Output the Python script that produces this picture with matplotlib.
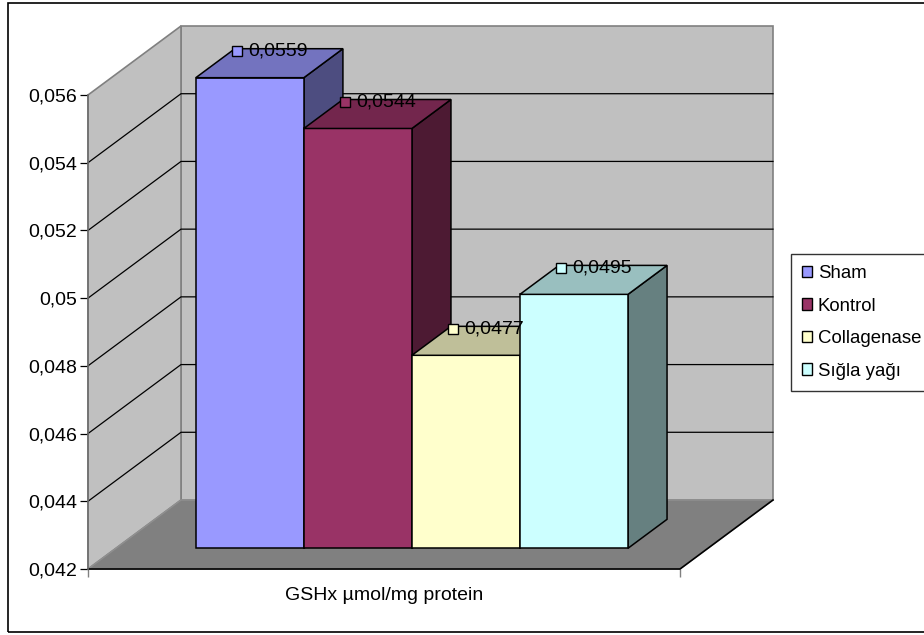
import numpy as np
import matplotlib.pyplot as plt
from matplotlib.patches import Polygon, Rectangle, Patch
from matplotlib.colors import to_rgb
from matplotlib.transforms import offset_copy

plt.rcParams['font.family'] = ['Liberation Sans', 'DejaVu Sans']

# veriler
gruplar = ['Sham', 'Kontrol', 'Collagenase', 'Sığla yağı']
degerler = [0.0559, 0.0544, 0.0477, 0.0495]
renkler = ['#9999FF', '#993366', '#FFFFCC', '#CCFFFF']
kategori = 'GSHx µmol/mg protein'
y_ticks = [0.042, 0.044, 0.046, 0.048, 0.050, 0.052, 0.054, 0.056]

W, H = 924, 635
FS = 14

def koyu(renk, f):
    return tuple(c * f for c in to_rgb(renk))

def virgul(v, fmt):
    return format(round(v, 4), fmt).replace('.', ',')

fig = plt.figure(figsize=(W / 100, H / 100), dpi=100)
ax = fig.add_axes([88 / W, (H - 569) / H, 592 / W, 474 / H])
ymin, ymax = y_ticks[0], y_ticks[-1]
ax.set_xlim(0, 1)
ax.set_ylim(ymin, ymax)
ax.patch.set_visible(False)
for s in ax.spines.values():
    s.set_visible(False)

# 3B derinlik kaydirmasi
DX = 93 / 592
DY = 69 / 474 * (ymax - ymin)

def poly(pts, **kw):
    p = Polygon(pts, closed=True, clip_on=False, **kw)
    ax.add_patch(p)
    return p

# duvarlar ve taban
poly([(DX, ymin + DY), (1 + DX, ymin + DY), (1 + DX, ymax + DY), (DX, ymax + DY)],
     facecolor='#C0C0C0', edgecolor='#808080', lw=1.2, zorder=1)
poly([(0, ymin), (DX, ymin + DY), (DX, ymax + DY), (0, ymax)],
     facecolor='#C0C0C0', edgecolor='#808080', lw=1.2, zorder=1)
for v in y_ticks[1:-1]:
    ax.plot([0, DX, 1 + DX], [v, v + DY, v + DY], color='black', lw=0.9,
            clip_on=False, zorder=2)
poly([(0, ymin), (DX, ymin + DY), (1 + DX, ymin + DY), (1, ymin)],
     facecolor='#808080', edgecolor='#909090', lw=1, zorder=3)
ax.plot([0, 1, 1 + DX], [ymin, ymin, ymin + DY], color='black', lw=1.2,
        clip_on=False, zorder=4)
ax.plot([0, 0], [ymin, ymax], color='#707070', lw=1.2, clip_on=False, zorder=4)

# sutunlar
bosluk = 0.135
gen = (1 - 2 * bosluk) / len(degerler)
d0, d1 = 0.30, 0.72
for i, (v, r) in enumerate(zip(degerler, renkler)):
    x0 = bosluk + i * gen
    x1 = x0 + gen
    a0, b0 = d0 * DX, d0 * DY
    a1, b1 = d1 * DX, d1 * DY
    z = 10 + i
    poly([(x1 + a0, ymin + b0), (x1 + a1, ymin + b1), (x1 + a1, v + b1), (x1 + a0, v + b0)],
         facecolor=koyu(r, 0.5), edgecolor='black', lw=1.1, zorder=z)
    poly([(x0 + a0, ymin + b0), (x1 + a0, ymin + b0), (x1 + a0, v + b0), (x0 + a0, v + b0)],
         facecolor=r, edgecolor='black', lw=1.1, zorder=z)
    poly([(x0 + a0, v + b0), (x1 + a0, v + b0), (x1 + a1, v + b1), (x0 + a1, v + b1)],
         facecolor=koyu(r, 0.75), edgecolor='black', lw=1.1, zorder=z)

    # deger etiketi
    cx = (x0 + x1) / 2 + (d0 + d1) / 2 * DX
    cy = v + b1
    ax.plot(cx, cy, marker='s', ms=7.9, mfc=r, mec='black', mew=1, clip_on=False,
            transform=offset_copy(ax.transData, fig=fig, x=-32.5, y=-2.5, units='dots'),
            zorder=30)
    ax.text(cx, cy, virgul(v, '.4f'), fontsize=FS, ha='left', va='center',
            transform=offset_copy(ax.transData, fig=fig, x=-21, y=-2.5, units='dots'),
            zorder=30)

# eksenler
ax.set_yticks(y_ticks, [virgul(t, 'g') for t in y_ticks], fontsize=FS)
ax.set_xticks([0, 1], ['', ''])
ax.tick_params(axis='y', length=5.8, width=0.9, color='black', pad=2)
ax.tick_params(axis='x', length=5.8, width=1, color='#808080')
ax.text(0.5, ymin, kategori, fontsize=FS, ha='center', va='center',
        transform=offset_copy(ax.transData, fig=fig, x=0, y=-26, units='dots'))

# lejant
tutamak = [Patch(facecolor=r, edgecolor='black', lw=1, label=g) for g, r in zip(gruplar, renkler)]
leg = fig.legend(handles=tutamak, loc='upper left', bbox_to_anchor=(791 / W, 1 - 254 / H),
                 fontsize=13.4, frameon=True, fancybox=False, edgecolor='black',
                 handlelength=0.55, handleheight=0.55, handletextpad=0.3,
                 labelspacing=0.83, borderpad=0.6, borderaxespad=0)
leg.get_frame().set_linewidth(1)

# grafik cercevesi
fig.add_artist(Rectangle((8 / W, (H - 632) / H), 930 / W, 629 / H, transform=fig.transFigure,
                         fill=False, edgecolor='black', lw=1.2))

fig.savefig('out.png', dpi=100, facecolor='white')
